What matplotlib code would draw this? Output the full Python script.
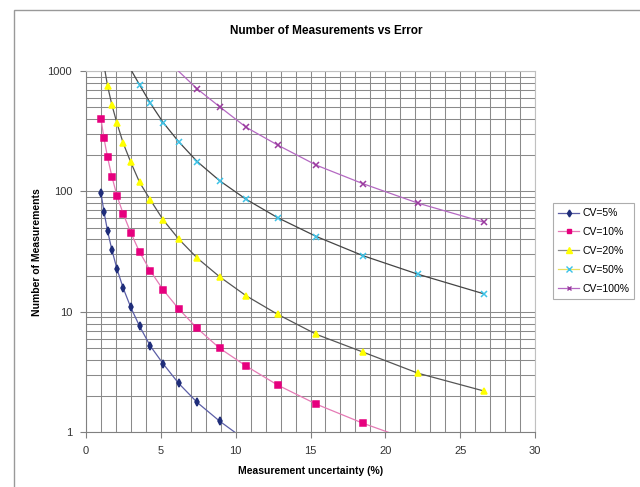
import matplotlib.pyplot as plt
from matplotlib.lines import Line2D
from matplotlib.patches import Rectangle
from matplotlib.ticker import MultipleLocator, LogLocator, NullFormatter
import numpy as np

# measurement uncertainty (%) at the data points
error = [1.0, 1.2, 1.44, 1.73, 2.07, 2.49, 2.99, 3.58, 4.3, 5.16, 6.19,
         7.43, 8.92, 10.7, 12.8, 15.4, 18.5, 22.2, 26.6]

n_cv5 = [97, 68, 47, 32.7, 22.7, 15.7, 10.9, 7.6, 5.2, 3.7, 2.55, 1.77, 1.24,
         None, None, None, None, None, None]
n_cv10 = [400, 277, 192, 133, 92, 65, 45.5, 31.4, 21.9, 15.2, 10.6, 7.3, 5.0,
          3.55, 2.47, 1.71, 1.19, None, None]
n_cv20 = [None, None, 752, 523, 368, 251, 175, 119, 85, 58, 40.3, 28, 19.6,
          13.6, 9.55, 6.5, 4.64, 3.09, 2.2]
n_cv50 = [None, None, None, None, None, None, None, 767, 540, 373, 259, 177,
          123, 86, 60.6, 42.2, 29.3, 20.5, 14.1]
n_cv100 = [None, None, None, None, None, None, None, None, None, None, None,
           710, 506, 341, 243, 165, 116, 79.8, 55.5]

# where each curve runs into the plot frame (x, y)
edge_start = {"CV=5%": None, "CV=10%": None, "CV=20%": (1.27, 1000),
              "CV=50%": (3.05, 1000), "CV=100%": (6.17, 1000)}
edge_end = {"CV=5%": (9.95, 1), "CV=10%": (20.2, 1), "CV=20%": None,
            "CV=50%": None, "CV=100%": None}

labels = ["CV=5%", "CV=10%", "CV=20%", "CV=50%", "CV=100%"]
series = [n_cv5, n_cv10, n_cv20, n_cv50, n_cv100]

line_colors = ["#5b5ea6", "#e57ab5", "#555555", "#444444", "#b468c2"]
marker_colors = ["#1f2d7a", "#e6007e", "#ffff00", "#3cc3e8", "#9b3ba0"]
markers = ["d", "s", "^", "x", "x"]
msizes = [4, 4, 5, 4.5, 3.8]

plt.rcParams['font.family'] = ['Liberation Sans', 'DejaVu Sans']

fig = plt.figure(figsize=(6.4, 4.87), dpi=100)
ax = fig.add_axes([86/640, 1-432.3/487, (535-86)/640, (432.3-71)/487])

for lab, vals, lc, mc, mk, ms in zip(labels, series, line_colors, marker_colors, markers, msizes):
    xs = [e for e, v in zip(error, vals) if v is not None]
    ys = [v for v in vals if v is not None]
    lx, ly = list(xs), list(ys)
    if edge_start[lab]:
        lx.insert(0, edge_start[lab][0]); ly.insert(0, edge_start[lab][1])
    if edge_end[lab]:
        lx.append(edge_end[lab][0]); ly.append(edge_end[lab][1])
    ax.plot(lx, ly, color=lc, lw=0.9, zorder=3)
    ax.plot(xs, ys, linestyle='none', marker=mk, ms=ms, color=mc,
            mec=mc, mew=1.1, zorder=4)

ax.set_yscale('log')
ax.set_xlim(0, 30)
ax.set_ylim(1, 1000)
ax.xaxis.set_major_locator(MultipleLocator(5))
ax.xaxis.set_minor_locator(MultipleLocator(1))
ax.yaxis.set_minor_locator(LogLocator(base=10, subs=np.arange(2, 10)))
ax.yaxis.set_minor_formatter(NullFormatter())
ax.set_yticks([1, 10, 100, 1000])
ax.set_yticklabels(["1", "10", "100", "1000"])
ax.grid(which='both', color='#8a8a8a', lw=0.75, zorder=1)
ax.tick_params(which='major', direction='out', length=4, width=0.8,
               color='#808080', labelsize=8, colors='#333333', pad=6)
ax.tick_params(which='minor', length=0)
for s in ['left', 'bottom']:
    ax.spines[s].set_color('#808080')
for s in ['top', 'right']:
    ax.spines[s].set_color('#c0c0c0')

ax.set_xlabel("Measurement uncertainty (%)", fontsize=7.5, fontweight='bold', labelpad=7)
ax.set_ylabel("Number of Measurements", fontsize=7.5, fontweight='bold', labelpad=4)
fig.text(326/640, 1-31/487, "Number of Measurements vs Error", fontsize=8.5,
         fontweight='bold', ha='center', va='center')

handles = [Line2D([], [], color="#5b5ea6", marker="d", ms=3.5, mfc="#1f2d7a", mec="#1f2d7a", lw=0.9),
           Line2D([], [], color="#e57ab5", marker="s", ms=3.5, mfc="#e6007e", mec="#e6007e", lw=0.9),
           Line2D([], [], color="#888888", marker="^", ms=4, mfc="#ffff00", mec="#ffff00", lw=0.9),
           Line2D([], [], color="#e8e060", marker="x", ms=4, mfc="#3cc3e8", mec="#3cc3e8", lw=0.9),
           Line2D([], [], color="#b468c2", marker="x", ms=3.5, mfc="#9b3ba0", mec="#9b3ba0", lw=0.9)]
leg = fig.legend(handles, labels, loc='upper left', bbox_to_anchor=(553/640, 1-203/487),
                 fontsize=7.5, frameon=True, fancybox=False, edgecolor='#999999',
                 handlelength=2.0, handletextpad=0.3, labelspacing=0.85,
                 borderpad=0.5, borderaxespad=0)
leg.get_frame().set_linewidth(0.8)

fig.add_artist(Rectangle((14/640, -0.1), 2, 1.1-10/487, transform=fig.transFigure,
                         fill=False, edgecolor='#999999', lw=1))

plt.savefig('out.png', dpi=100)
